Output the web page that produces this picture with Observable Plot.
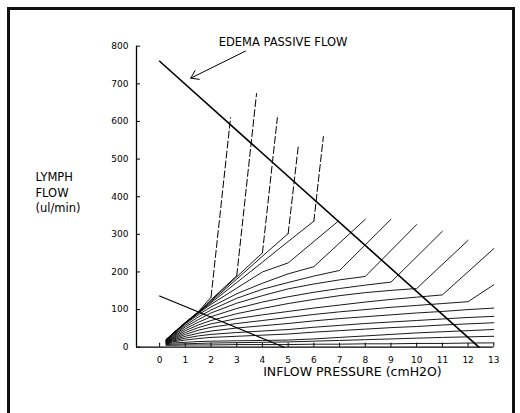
<!DOCTYPE html>
<html><head><meta charset="utf-8">
<script src="https://cdn.jsdelivr.net/npm/d3@7"></script>
<script src="https://cdn.jsdelivr.net/npm/@observablehq/plot@0.6"></script>
<style>
html,body{margin:0;padding:0;overflow:hidden;background:#fff;width:520px;height:413px}
#frame{position:absolute;left:7px;top:7px;width:502px;height:430px;border:3px solid #111;border-bottom:none}
#chart{position:absolute;left:0;top:0}
</style></head><body>
<div id="frame"></div><div id="chart"></div>
<script>
// ---- data ----
const pressureGrid = [0.25, 0.5, 1, 1.5, 2, 3, 4, 5, 6, 7, 8, 9, 10, 11, 12, 13];
const xTicks = [0,1,2,3,4,5,6,7,8,9,10,11,12,13];
const yTicks = [0,100,200,300,400,500,600,700,800];

// flat curves (whole range)
const flowF6 = [5, 5, 6, 6, 6, 7, 7, 7, 8, 8, 9, 9, 10, 10, 11, 11.5];
const flowF5 = [7, 8, 9, 10, 11, 12, 13, 14, 16, 18, 20, 22, 24, 26, 27.5, 29];
const flowF4 = [9, 11, 13, 15, 16, 17, 18, 19, 22, 26, 30, 34, 38, 41, 44, 47];
const flowF3 = [10, 14, 19, 23, 26, 29, 32, 35, 40, 44, 48, 52, 55, 59, 62, 65];
const flowF2 = [11, 16, 24, 30, 34, 39, 43, 47, 53, 58, 63, 67, 71, 75, 79, 82];
const flowF1 = [12, 18, 29, 37, 43, 51, 57, 63, 70, 76, 81, 86, 91, 95, 100, 104];
// kinked solid curves: values up to kink, then end point
const flowS12 = [13, 20, 34, 45, 53, 63, 71, 79, 87, 94, 100, 106, 111, 116, 121];
const endS12 = [13, 166];
const flowS11 = [14, 22, 39, 52, 62, 76, 86, 95, 104, 112, 120, 127, 133, 139];
const endS11 = [13, 262];
const flowS10 = [15, 24, 44, 59, 71, 89, 103, 116, 127, 137, 145, 151, 156];
const endS10 = [12, 284];
const flowS9 = [16, 26, 49, 66, 81, 103, 120, 134, 146, 156, 165, 173];
const endS9 = [11, 308];
const flowS8 = [17, 28, 54, 73, 91, 117, 137, 155, 168, 179, 188];
const endS8 = [10, 326];
const flowS7 = [18, 30, 58, 80, 99, 130, 154, 172, 189, 204];
const endS7 = [9, 340];
const flowS6 = [18, 32, 62, 86, 107, 142, 170, 195, 214];
const endS6 = [8, 340];
const flowS5 = [19, 34, 65, 90, 114, 157, 200, 224];
const endS5 = [6.95, 335];
// curves with dashed continuation
const flowD5 = [19, 35, 64, 91, 118, 172, 226, 281, 335];
const dashD5 = [6.37, 560];
const flowD4 = [20, 35, 64, 91, 121, 181, 242, 302];
const dashD4 = [5.4, 538];
const flowD3 = [20, 35, 65, 92, 124, 187, 251];
const dashD3 = [4.58, 610];
const flowD2 = [20, 36, 65, 93, 126, 190];
const dashD2 = [3.77, 674];
const flowD1 = [20, 36, 66, 94, 133];
const dashD1 = [2.76, 610];

const passiveLine = [[0, 760], [12.42, 0]];
const lowerLine = [[0, 136], [4.84, 0]];
const arrowFrom = [3.34, 787];
const arrowTo = [1.21, 715];

const passiveLabel = "EDEMA PASSIVE FLOW";
const xLabel = "INFLOW PRESSURE (cmH2O)";
const yLabel = "LYMPH\nFLOW\n(ul/min)";

// ---- build tables ----
const solid = [];
const dashed = [];
function addCurve(id, vals, end, dash) {
  vals.forEach((v, i) => solid.push({id, x: pressureGrid[i], y: v}));
  if (end) solid.push({id, x: end[0], y: end[1]});
  if (dash) {
    const k = vals.length - 1;
    dashed.push({id, x: pressureGrid[k], y: vals[k]});
    dashed.push({id, x: dash[0], y: dash[1]});
  }
}
addCurve("F6", flowF6); addCurve("F5", flowF5); addCurve("F4", flowF4);
addCurve("F3", flowF3); addCurve("F2", flowF2); addCurve("F1", flowF1);
addCurve("S12", flowS12, endS12); addCurve("S11", flowS11, endS11);
addCurve("S10", flowS10, endS10); addCurve("S9", flowS9, endS9);
addCurve("S8", flowS8, endS8); addCurve("S7", flowS7, endS7);
addCurve("S6", flowS6, endS6); addCurve("S5", flowS5, endS5);
addCurve("D5", flowD5, null, dashD5); addCurve("D4", flowD4, null, dashD4);
addCurve("D3", flowD3, null, dashD3); addCurve("D2", flowD2, null, dashD2);
addCurve("D1", flowD1, null, dashD1);

const chart = Plot.plot({
  width: 520, height: 413,
  marginLeft: 136, marginRight: 26.7, marginTop: 45.7, marginBottom: 66.3,
  x: {domain: [-0.9, 13]},
  y: {domain: [0, 800]},
  style: {fontFamily: "DejaVu Sans", background: "transparent", color: "black", overflow: "visible"},
  marks: [
    Plot.ruleY([0], {x1: -0.9, x2: 13, stroke: "black", strokeWidth: 1.3}),
    Plot.ruleX([-0.9], {y1: 0, y2: 800, stroke: "black", strokeWidth: 1.3}),
    Plot.ruleX(xTicks, {x: d => d, y1: 0, y2: 0, insetTop: -4, stroke: "black"}),
    Plot.ruleY(yTicks, {y: d => d, x1: -0.9, x2: -0.9, insetRight: -4, stroke: "black"}),
    Plot.axisX({ticks: xTicks, tickSize: 0, tickPadding: 9, label: null, fontSize: 9}),
    Plot.axisY({ticks: yTicks, tickSize: 0, tickPadding: 8, label: null, fontSize: 9}),
    Plot.line(solid, {x: "x", y: "y", z: "id", stroke: "black", strokeWidth: 0.9, curve: "linear"}),
    Plot.line(dashed, {x: "x", y: "y", z: "id", stroke: "black", strokeWidth: 1, strokeDasharray: "7,3"}),
    Plot.line(passiveLine, {x: d => d[0], y: d => d[1], stroke: "black", strokeWidth: 1.6}),
    Plot.line(lowerLine, {x: d => d[0], y: d => d[1], stroke: "black", strokeWidth: 1.2}),
    Plot.arrow([{a: arrowFrom, b: arrowTo}], {x1: d => d.a[0], y1: d => d.a[1], x2: d => d.b[0], y2: d => d.b[1], headLength: 13, headAngle: 68, strokeWidth: 1, stroke: "black"}),
    Plot.text([passiveLabel], {x: 4.8, y: 800, dy: -4, lineAnchor: "middle", textAnchor: "middle", fontSize: 11.5}),
    Plot.text([xLabel], {x: 7.5, y: 0, dy: 20, lineAnchor: "top", textAnchor: "middle", fontSize: 12.5}),
    Plot.text([yLabel], {frameAnchor: "top-left", dx: -101, dy: 123.6, textAnchor: "start", lineAnchor: "top", lineHeight: 1.36, fontSize: 11.5})
  ]
});
document.getElementById("chart").appendChild(chart);
</script></body></html>
